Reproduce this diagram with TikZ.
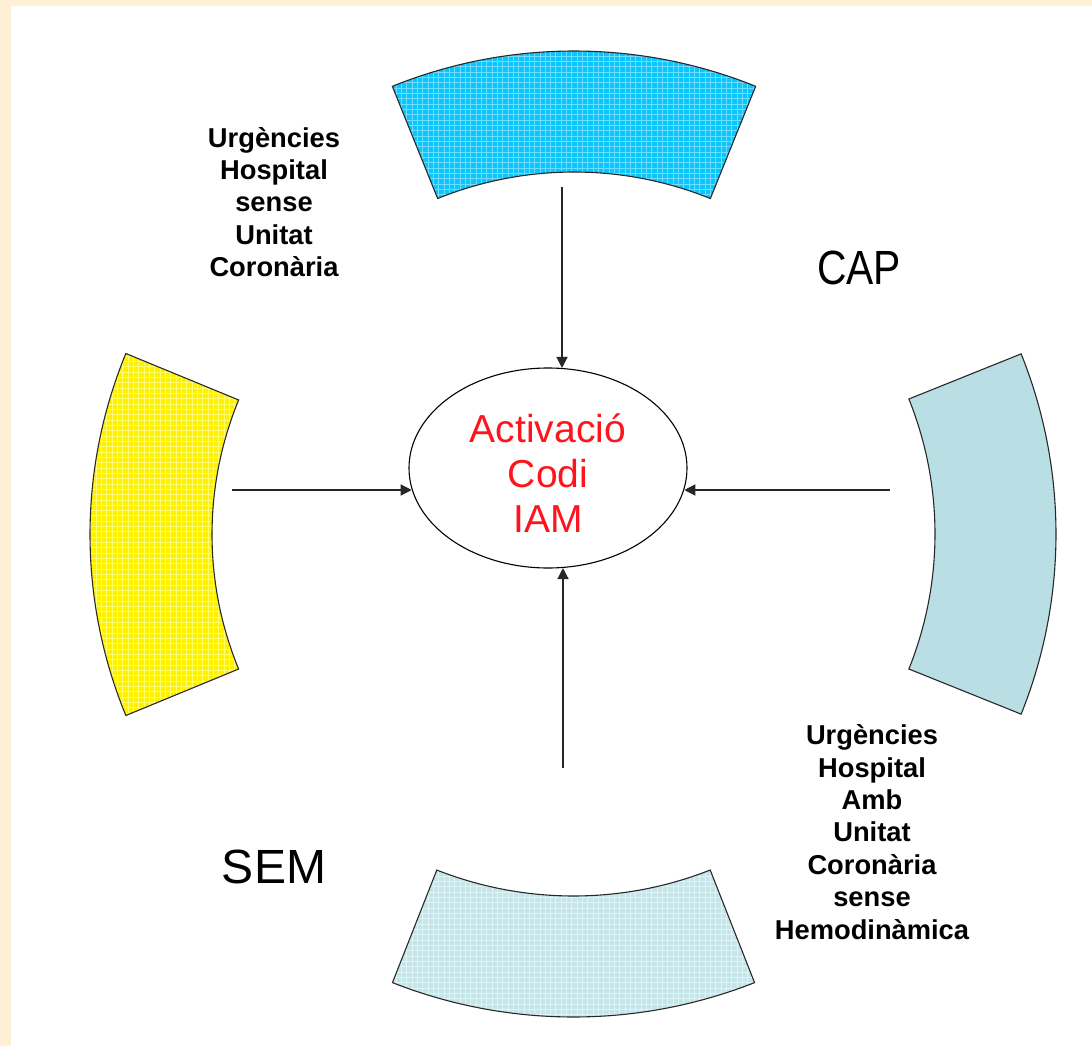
\documentclass[tikz,border=0pt]{standalone}
\usepackage{fontspec}
\setmainfont{Liberation Sans}
\usetikzlibrary{arrows.meta,shapes.geometric}
\definecolor{parch}{RGB}{253,240,212}
\definecolor{topc}{RGB}{10,198,252}
\definecolor{topl}{RGB}{110,220,255}
\definecolor{yelc}{RGB}{255,240,0}
\definecolor{yell}{RGB}{255,255,110}
\definecolor{botc}{RGB}{196,230,234}
\definecolor{botl}{RGB}{224,243,245}
\definecolor{rgtc}{RGB}{185,223,228}
\definecolor{iamred}{RGB}{255,20,30}
\definecolor{edge}{RGB}{40,40,40}
% annular sector: cx, cy, Rin, Rout, a1, a2  (pixel space, y down)
\newcommand{\sectorpath}[6]{plot[domain=#5:#6,samples=90] ({#1+#4*cos(\x)},{#2+#4*sin(\x)}) -- plot[domain=#6:#5,samples=90] ({#1+#3*cos(\x)},{#2+#3*sin(\x)}) -- cycle}
% mesh of thin lines over a box: x0, y0, x1, y1, colour
\newcommand{\meshbox}[5]{%
  \pgfmathsetmacro{\nx}{int((#3-#1)/5.33)}%
  \pgfmathsetmacro{\ny}{int((#4-#2)/5.33)}%
  \foreach \k in {0,...,\nx} \draw[gridline, #5] ({#1+\k*5.33},#2) -- ({#1+\k*5.33},#4);%
  \foreach \k in {0,...,\ny} \draw[gridline, #5] (#1,{#2+\k*5.33}) -- (#3,{#2+\k*5.33});%
}
\tikzset{
  sectline/.style={draw=edge, line width=1.1pt},
  gridline/.style={line width=0.8pt},
  arr/.style={draw=black!85, line width=1.3pt, -{Triangle[length=11pt,width=11pt]}},
  boldlbl/.style={font=\bfseries\fontsize{27.3}{32.4}\selectfont, align=center, text=black, inner sep=0pt},
  biglbl/.style={font=\fontsize{48}{52}\selectfont, text=black, inner sep=0pt},
  iam/.style={font=\fontsize{39}{45}\selectfont, align=center, text=iamred, inner sep=0pt}
}
\begin{document}
\begin{tikzpicture}[x=1pt,y=-1pt]
\useasboundingbox (0,0) rectangle (1092,1046);
\fill[parch] (0,0) rectangle (1092,1046);
\fill[white] (11,6) rectangle (1092,1046);

% top sector (cyan, patterned)
\begin{scope}
\clip \sectorpath{574}{536}{364}{485}{248}{292};
\fill[topc] (380,40) rectangle (770,210);
\meshbox{380}{40}{770}{210}{topl}
\end{scope}
\draw[sectline] \sectorpath{574}{536}{364}{485}{248}{292};

% left sector (yellow, patterned)
\begin{scope}
\clip \sectorpath{565}{534.5}{353}{475}{157.6}{202.4};
\fill[yelc] (80,340) rectangle (250,730);
\meshbox{80}{340}{250}{730}{yell}
\end{scope}
\draw[sectline] \sectorpath{565}{534.5}{353}{475}{157.6}{202.4};

% right sector (plain light blue)
\fill[rgtc] \sectorpath{573}{534}{362}{483}{-21.9}{21.9};
\draw[sectline] \sectorpath{573}{534}{362}{483}{-21.9}{21.9};

% bottom sector (pale cyan, patterned)
\begin{scope}
\clip \sectorpath{573.5}{523}{373}{494}{68.5}{111.5};
\fill[botc] (380,860) rectangle (770,1030);
\meshbox{380}{860}{770}{1030}{botl}
\end{scope}
\draw[sectline] \sectorpath{573.5}{523}{373}{494}{68.5}{111.5};

% central ellipse
\node[ellipse, draw=black, line width=1.1pt, fill=white, minimum width=278pt, minimum height=200pt, inner sep=0pt] (ell) at (548,468) {};
\node[iam] (iamtxt) at (548,473) {Activació\\Codi\\IAM};

% labels
\node[boldlbl] (lblA) at (274,202) {Urgències\\Hospital\\sense\\Unitat\\Coronària};
\node[boldlbl] (lblB) at (872,832) {Urgències\\Hospital\\Amb\\Unitat\\Coronària\\sense\\Hemodinàmica};
\node[biglbl, xscale=0.85] (cap) at (859,268) {CAP};
\node[biglbl] (sem) at (274,867) {SEM};

% connectors
\coordinate (ftop) at (562,187);
\coordinate (fleft) at (232,490);
\coordinate (fright) at (890,490);
\coordinate (fbot) at (563,768);
\draw[arr] (ftop) -- (ftop |- ell.82);
\draw[arr] (fleft) -- (fleft -| ell.189);
\draw[arr] (fright) -- (fright -| ell.351);
\draw[arr] (fbot) -- (fbot |- ell.278);
\end{tikzpicture}
\end{document}
